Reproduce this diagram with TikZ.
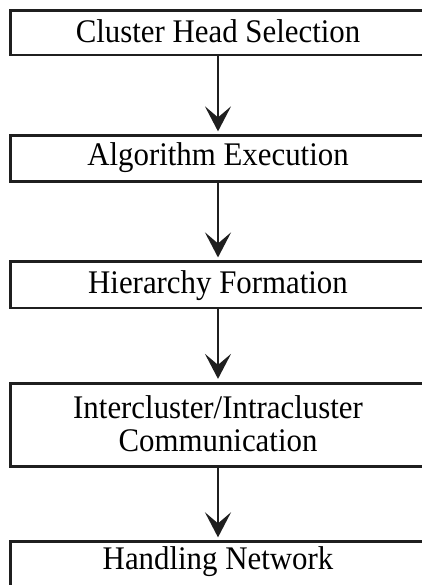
\documentclass[tikz,border=0pt]{standalone}
\usepackage{fontspec}
\setmainfont{Liberation Serif}[FakeStretch=0.935]
\usetikzlibrary{arrows.meta}
\begin{document}
\begin{tikzpicture}[x=1pt,y=-1pt,
  box/.style={draw=black!88, line width=2.7pt, rectangle, minimum width=414.6pt, inner sep=0pt},
  lbl/.style={anchor=base, inner sep=0pt, font=\fontsize{33pt}{33pt}\selectfont, text=black},
  flow/.style={draw=black!88, line width=2.5pt, -{Stealth[length=25pt,width=26pt,inset=11pt]}, shorten >=3pt}]
\useasboundingbox (0,0) rectangle (422,585);
\node[box, minimum height=44.7pt] (b1) at (218,32.7) {};
\node[box, minimum height=45.9pt] (b2) at (218,158.7) {};
\node[box, minimum height=46.2pt] (b3) at (218,284.9) {};
\node[box, minimum height=83.5pt] (b4) at (218,425) {};
\node[box, minimum height=46pt] (b5) at (218,564.7) {};
\node[lbl] (t1) at (218,42.7) {Cluster Head Selection};
\node[lbl] (t2) at (218,166) {Algorithm Execution};
\node[lbl] (t3) at (218,293.3) {Hierarchy Formation};
\node[lbl] (t4a) at (218,418) {Intercluster/Intracluster};
\node[lbl] (t4b) at (218,451) {Communication};
\node[lbl] (t5) at (218,569) {Handling Network};
\draw[flow] (b1.south) -- (b2.north);
\draw[flow] (b2.south) -- (b3.north);
\draw[flow] (b3.south) -- (b4.north);
\draw[flow] (b4.south) -- (b5.north);
\end{tikzpicture}
\end{document}
